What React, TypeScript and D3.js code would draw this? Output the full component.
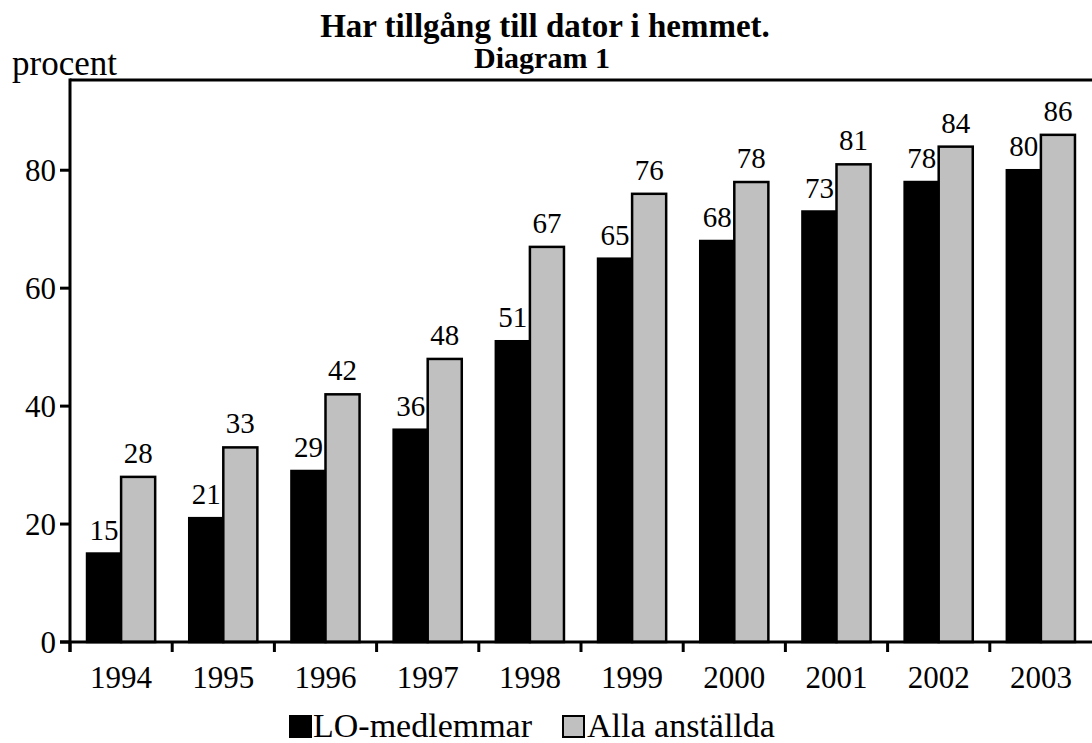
import React from 'react';
import * as d3 from 'd3';

const years = ['1994', '1995', '1996', '1997', '1998', '1999', '2000', '2001', '2002', '2003'];
const seriesNames = ['LO-medlemmar', 'Alla anställda'];
const loValues = [15, 21, 29, 36, 51, 65, 68, 73, 78, 80];
const allaValues = [28, 33, 42, 48, 67, 76, 78, 81, 84, 86];
const yTicks = [0, 20, 40, 60, 80];

const colors = ['#000000', '#c0c0c0'];

const W = 1092;
const H = 743;
const left = 70;
const top = 80;
const bottom = 642;
const right = 1092;
const font = '"Liberation Serif", "Times New Roman", serif';

export default function App() {
  const x = d3.scaleBand().domain(years).range([left, right]).padding(0);
  // two bars per year, half a bar of space on each side
  const inner = d3.scaleBand().domain(seriesNames).range([0, x.bandwidth()]).paddingInner(0).paddingOuter(0.5);
  const y = d3.scaleLinear().domain([0, 95.3]).range([bottom, top]);

  const rows = years.map((yr, i) => ({ year: yr, vals: [loValues[i], allaValues[i]] }));

  return (
    <svg width={W} height={H} style={{ position: 'absolute', left: 0, top: 0, background: '#fff' }} fontFamily={font}>
      <text x={545} y={37} textAnchor="middle" fontWeight="bold" fontSize={33}>Har tillgång till dator i hemmet.</text>
      <text x={542} y={68} textAnchor="middle" fontWeight="bold" fontSize={30}>Diagram 1</text>
      <text x={12} y={75} fontSize={35}>procent</text>

      {/* bars */}
      {rows.map(r => (
        <g key={r.year} transform={`translate(${x(r.year)},0)`}>
          {r.vals.map((v, j) => (
            <g key={j}>
              <rect
                x={inner(seriesNames[j])}
                y={y(v)}
                width={inner.bandwidth()}
                height={y(0) - y(v)}
                fill={colors[j]}
                stroke="#000"
                strokeWidth={2.5}
              />
              <text
                x={(inner(seriesNames[j]) as number) + inner.bandwidth() / 2}
                y={y(v) - 14}
                textAnchor="middle"
                fontSize={29}
              >{v}</text>
            </g>
          ))}
        </g>
      ))}

      {/* axes frame */}
      <line x1={left} x2={right} y1={top} y2={top} stroke="#000" strokeWidth={3} />
      <line x1={left} x2={left} y1={top - 1.5} y2={bottom + 10} stroke="#000" strokeWidth={3} />
      <line x1={left - 10} x2={right} y1={bottom} y2={bottom} stroke="#000" strokeWidth={3} />

      {yTicks.map(t => (
        <g key={t}>
          <line x1={left - 10} x2={left} y1={y(t)} y2={y(t)} stroke="#000" strokeWidth={3} />
          <text x={56} y={y(t)} dy="0.35em" textAnchor="end" fontSize={31}>{t}</text>
        </g>
      ))}

      {years.map(yr => (
        <g key={yr}>
          <line x1={x(yr)} x2={x(yr)} y1={bottom} y2={bottom + 10} stroke="#000" strokeWidth={3} />
          <text x={(x(yr) as number) + x.bandwidth() / 2} y={688} textAnchor="middle" fontSize={31}>{yr}</text>
        </g>
      ))}

      {/* legend */}
      <g>
        <rect x={290} y={716} width={21} height={21} fill={colors[0]} stroke="#000" strokeWidth={2} />
        <text x={313} y={737} fontSize={34}>{seriesNames[0]}</text>
        <rect x={563} y={716} width={21} height={21} fill={colors[1]} stroke="#000" strokeWidth={2} />
        <text x={587} y={737} fontSize={34}>{seriesNames[1]}</text>
      </g>
    </svg>
  );
}
